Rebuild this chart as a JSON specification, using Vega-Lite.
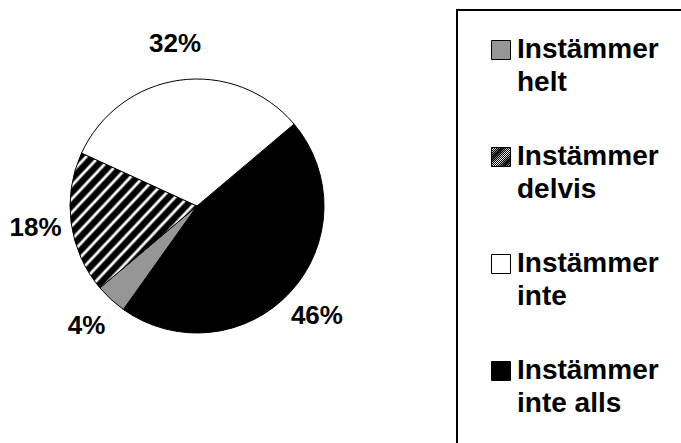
{
  "$schema": "https://vega.github.io/schema/vega-lite/v6.json",
  "width": 394,
  "height": 412,
  "autosize": {"type": "none"},
  "padding": {"left": 0, "top": 0, "right": 287, "bottom": 31},
  "background": "white",
  "config": {
    "view": {"stroke": null},
    "legend": {"strokeWidth": 2}
  },
  "data": {
    "values": [
      {"kat": "Instämmer inte alls", "andel": 0.46, "ordning": 1},
      {"kat": "Instämmer helt", "andel": 0.04, "ordning": 2},
      {"kat": "Instämmer delvis", "andel": 0.18, "ordning": 3},
      {"kat": "Instämmer inte", "andel": 0.32, "ordning": 4}
    ]
  },
  "encoding": {
    "theta": {"field": "andel", "type": "quantitative", "stack": true, "scale": {"range": [0.87, 7.153]}},
    "order": {"field": "ordning", "type": "quantitative"}
  },
  "layer": [
    {
      "mark": {"type": "arc", "outerRadius": 127, "stroke": "black", "strokeWidth": 1},
      "encoding": {
        "color": {
          "field": "kat",
          "type": "nominal",
          "scale": {
            "domain": ["Instämmer helt", "Instämmer delvis", "Instämmer inte", "Instämmer inte alls"],
            "range": [
              "#969696",
              {"expr": "{gradient: 'linear', x1: 0, y1: 0, x2: 1, y2: 1, stops: [{offset: 0.015, color: 'black'}, {offset: 0.025, color: 'white'}, {offset: 0.030, color: 'white'}, {offset: 0.040, color: 'black'}, {offset: 0.065, color: 'black'}, {offset: 0.075, color: 'white'}, {offset: 0.080, color: 'white'}, {offset: 0.090, color: 'black'}, {offset: 0.115, color: 'black'}, {offset: 0.125, color: 'white'}, {offset: 0.130, color: 'white'}, {offset: 0.140, color: 'black'}, {offset: 0.165, color: 'black'}, {offset: 0.175, color: 'white'}, {offset: 0.180, color: 'white'}, {offset: 0.190, color: 'black'}, {offset: 0.215, color: 'black'}, {offset: 0.225, color: 'white'}, {offset: 0.230, color: 'white'}, {offset: 0.240, color: 'black'}, {offset: 0.265, color: 'black'}, {offset: 0.275, color: 'white'}, {offset: 0.280, color: 'white'}, {offset: 0.290, color: 'black'}, {offset: 0.315, color: 'black'}, {offset: 0.325, color: 'white'}, {offset: 0.330, color: 'white'}, {offset: 0.340, color: 'black'}, {offset: 0.365, color: 'black'}, {offset: 0.375, color: 'white'}, {offset: 0.380, color: 'white'}, {offset: 0.390, color: 'black'}, {offset: 0.415, color: 'black'}, {offset: 0.425, color: 'white'}, {offset: 0.430, color: 'white'}, {offset: 0.440, color: 'black'}, {offset: 0.465, color: 'black'}, {offset: 0.475, color: 'white'}, {offset: 0.480, color: 'white'}, {offset: 0.490, color: 'black'}, {offset: 0.515, color: 'black'}, {offset: 0.525, color: 'white'}, {offset: 0.530, color: 'white'}, {offset: 0.540, color: 'black'}, {offset: 0.565, color: 'black'}, {offset: 0.575, color: 'white'}, {offset: 0.580, color: 'white'}, {offset: 0.590, color: 'black'}, {offset: 0.615, color: 'black'}, {offset: 0.625, color: 'white'}, {offset: 0.630, color: 'white'}, {offset: 0.640, color: 'black'}, {offset: 0.665, color: 'black'}, {offset: 0.675, color: 'white'}, {offset: 0.680, color: 'white'}, {offset: 0.690, color: 'black'}, {offset: 0.715, color: 'black'}, {offset: 0.725, color: 'white'}, {offset: 0.730, color: 'white'}, {offset: 0.740, color: 'black'}, {offset: 0.765, color: 'black'}, {offset: 0.775, color: 'white'}, {offset: 0.780, color: 'white'}, {offset: 0.790, color: 'black'}, {offset: 0.815, color: 'black'}, {offset: 0.825, color: 'white'}, {offset: 0.830, color: 'white'}, {offset: 0.840, color: 'black'}, {offset: 0.865, color: 'black'}, {offset: 0.875, color: 'white'}, {offset: 0.880, color: 'white'}, {offset: 0.890, color: 'black'}, {offset: 0.915, color: 'black'}, {offset: 0.925, color: 'white'}, {offset: 0.930, color: 'white'}, {offset: 0.940, color: 'black'}, {offset: 0.965, color: 'black'}, {offset: 0.975, color: 'white'}, {offset: 0.980, color: 'white'}, {offset: 0.990, color: 'black'}]}"},
              "#ffffff",
              "#000000"
            ]
          },
          "legend": {
            "title": null,
            "orient": "none",
            "legendX": 457,
            "legendY": 10,
            "padding": 26,
            "strokeColor": "black",
            "symbolType": "square",
            "symbolSize": 361,
            "symbolStrokeColor": "black",
            "symbolStrokeWidth": 1,
            "symbolOffset": 4,
            "labelFont": "Liberation Sans",
            "labelFontSize": 28,
            "labelFontWeight": "bold",
            "labelColor": "black",
            "labelOffset": 2,
            "labelLimit": 300,
            "labelBaseline": "alphabetic",
            "rowPadding": 46,
            "labelExpr": "[substring(datum.value, 0, 9), substring(datum.value, 10)]",
            "encode": {
              "labels": {"update": {"lineHeight": {"value": 33}, "dy": {"value": 8}}},
              "symbols": {
                "update": {
                  "stroke": {"value": "black"},
                  "strokeWidth": {"value": 1},
                  "opacity": {"value": 1}
                }
              }
            }
          }
        }
      }
    },
    {
      "mark": {"type": "text", "radius": 163, "font": "Liberation Sans", "fontSize": 26, "fontWeight": "bold", "color": "black"},
      "encoding": {
        "detail": {"field": "kat", "type": "nominal"},
        "text": {"field": "andel", "type": "quantitative", "format": ".0%"}
      }
    }
  ]
}
